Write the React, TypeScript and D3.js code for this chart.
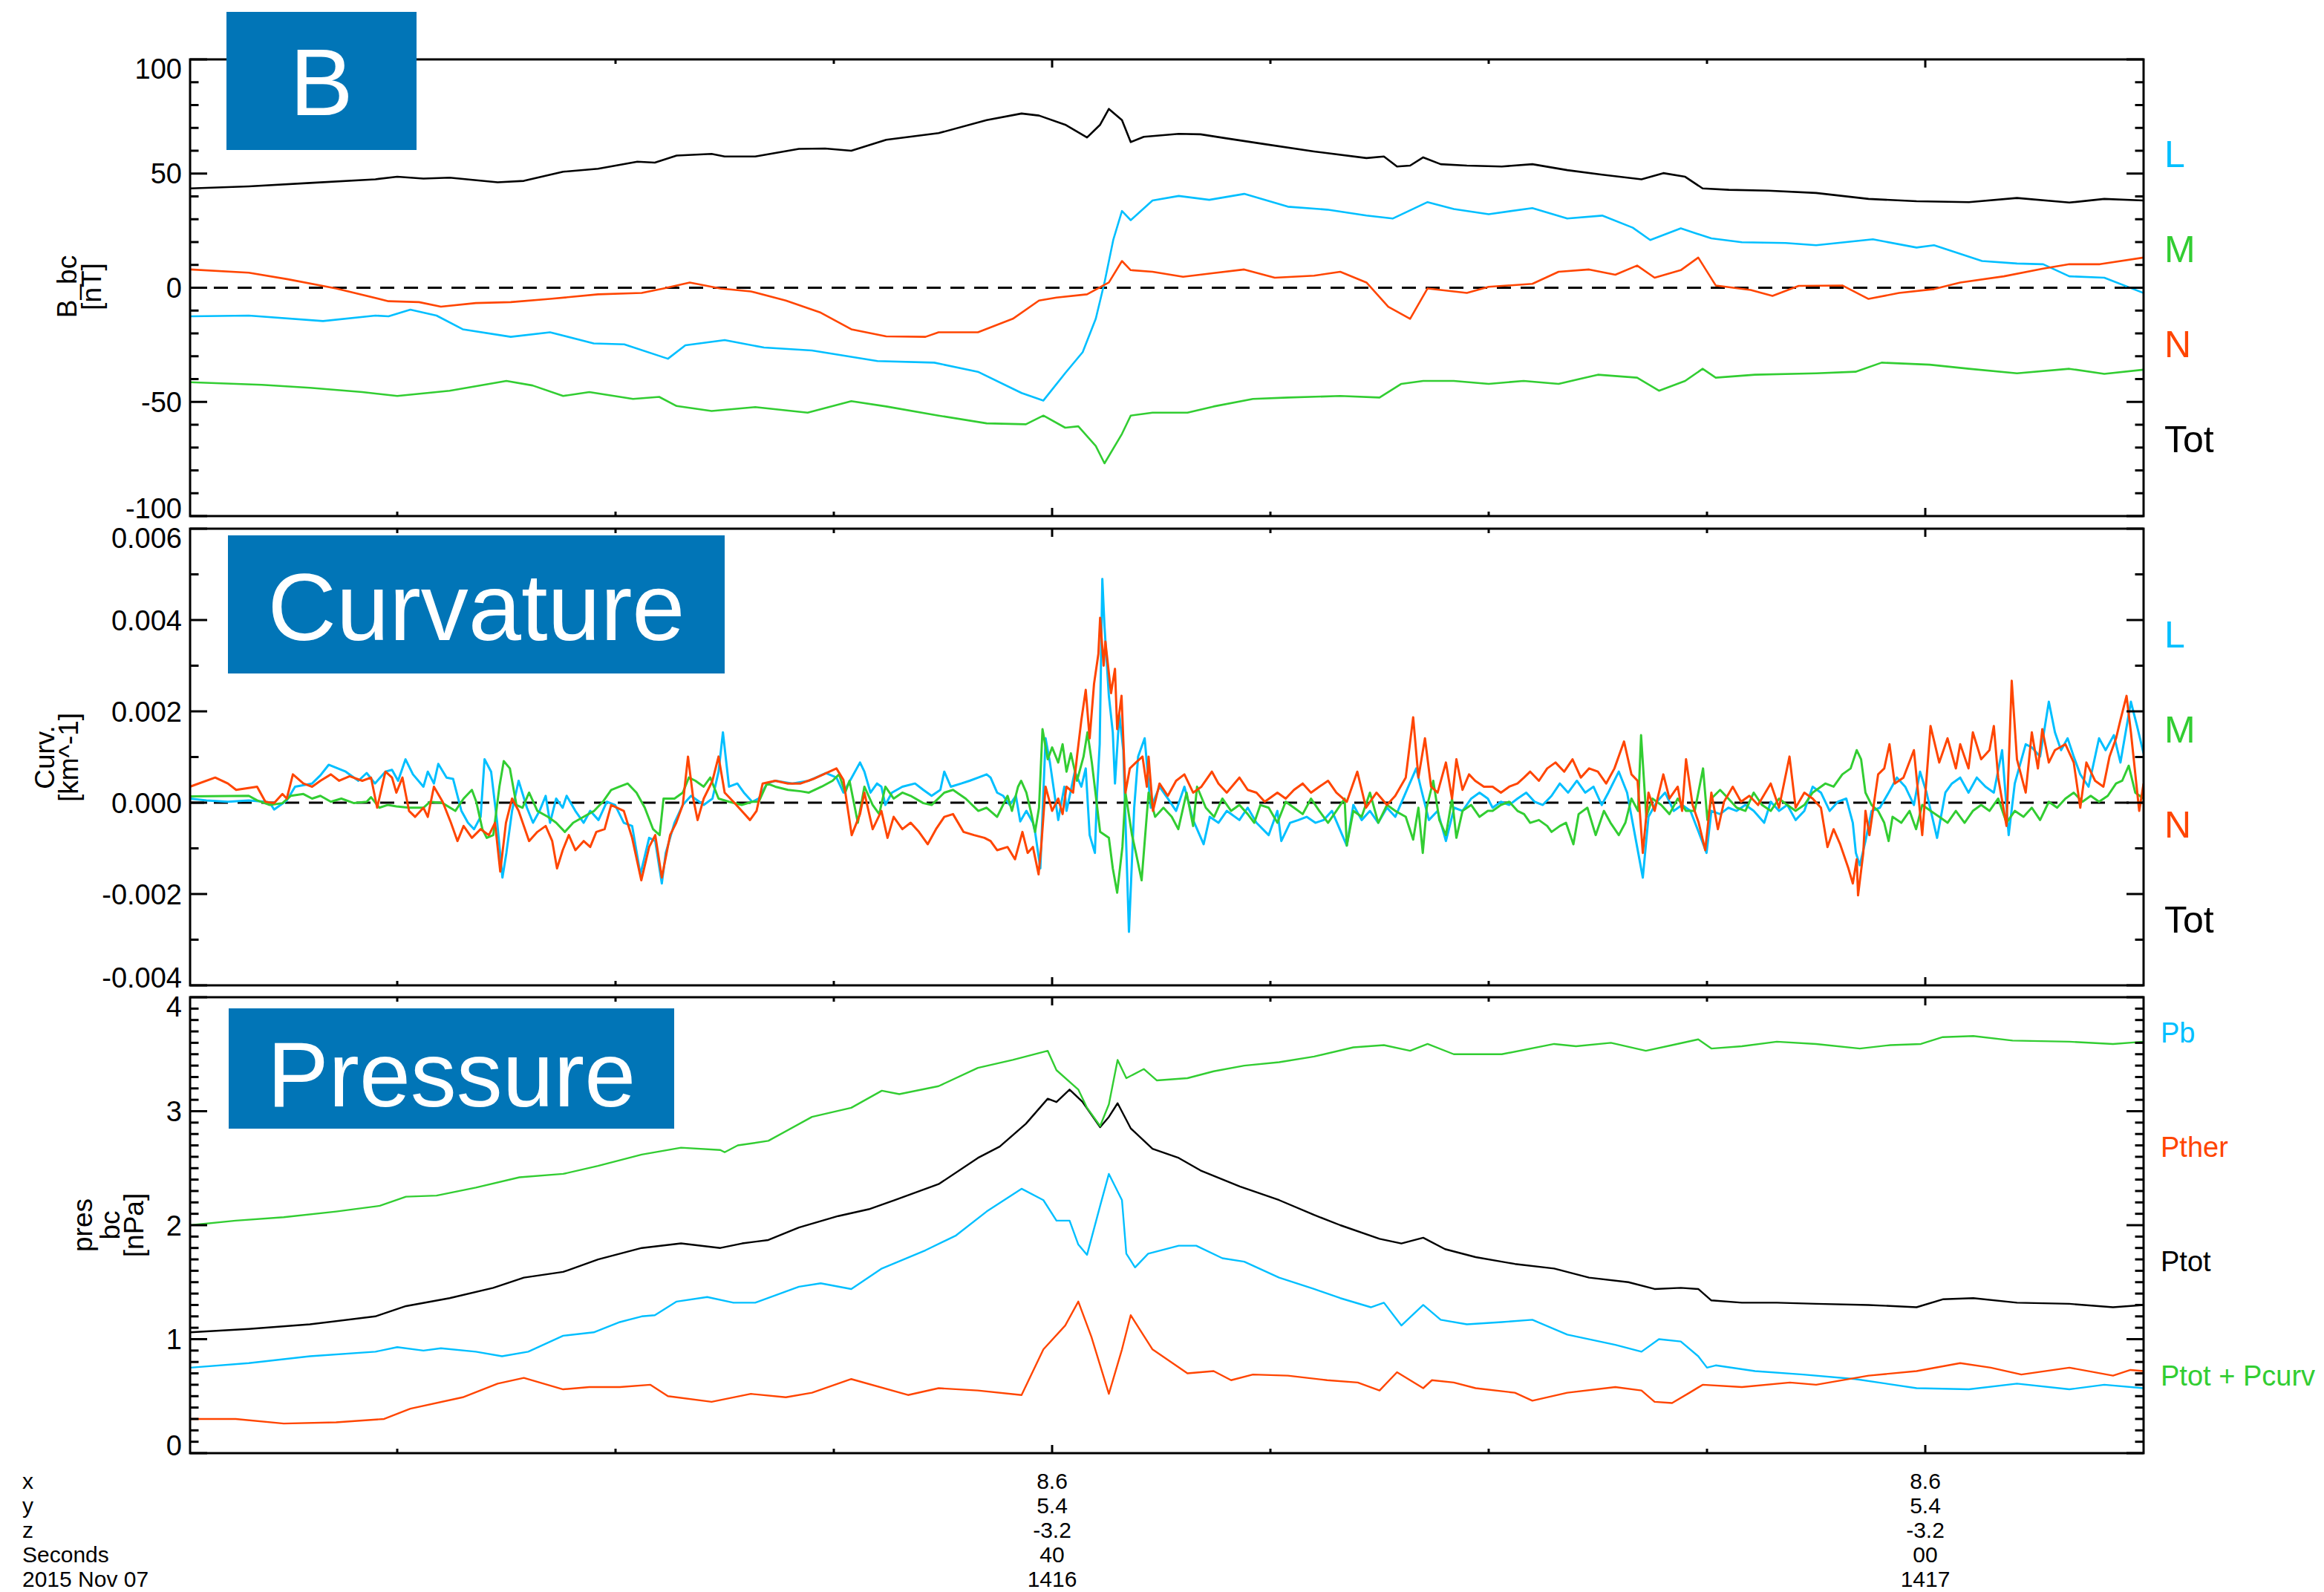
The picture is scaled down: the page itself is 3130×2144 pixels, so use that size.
import React from 'react';
import * as d3 from 'd3';

// ---- layout ----
const W = 3130;
const H = 2144;
const X0 = 256;
const X1 = 2887;
const FONT = '"Liberation Sans", Arial, Helvetica, sans-serif';

const CYAN = '#00bfff';
const GREEN = '#32cd32';
const RED = '#ff4500';
const BLACK = '#000000';
const BOX_BLUE = '#0175b7';

// time axis: seconds after 14:16:00 UT
const T_START = 20.255;
const T_END = 65.0;
const timeMajor = [40, 60];
const timeMinor = [25, 30, 35, 45, 50, 55];

type Pt = [number, number];

// ---- magnetic field, B_bc [nT] (time s, value) ----
const bTot: Pt[] = [[20.26,43.5],[21.6,44.4],[23.0,45.9],[24.5,47.5],[25.0,48.6],[25.6,47.8],[26.2,48.2],[27.3,46.2],[27.9,46.8],[28.8,50.8],[29.6,52.1],[30.5,55.2],[30.9,54.8],[31.4,57.9],[32.2,58.6],[32.5,57.5],[33.2,57.5],[34.2,60.8],[34.8,61.0],[35.4,60.0],[36.2,64.8],[37.4,67.7],[38.5,73.4],[39.3,76.3],[39.7,75.4],[40.3,71.4],[40.8,65.8],[41.1,71.4],[41.3,78.3],[41.6,73.4],[41.8,63.8],[42.1,66.1],[42.9,67.4],[43.4,67.2],[44.0,65.4],[44.9,62.8],[46.0,59.7],[47.2,56.8],[47.6,57.5],[47.9,53.1],[48.2,53.5],[48.5,57.1],[48.9,54.1],[49.5,53.5],[50.3,53.1],[51.0,54.1],[51.8,51.5],[52.6,49.5],[53.5,47.5],[54.0,50.2],[54.5,48.6],[54.9,43.5],[55.5,42.9],[56.4,42.5],[57.5,41.5],[58.7,38.9],[59.8,37.9],[61.0,37.5],[62.1,39.3],[63.3,37.3],[64.1,38.9],[65.0,38.2]];
const bL: Pt[] = [[20.26,-12.5],[21.6,-12.2],[23.3,-14.6],[24.5,-12.2],[24.8,-12.5],[25.3,-9.6],[25.9,-12.2],[26.5,-18.2],[27.6,-21.5],[28.5,-19.5],[29.5,-24.4],[30.2,-24.8],[31.2,-31.1],[31.6,-25.2],[32.5,-22.9],[33.4,-26.2],[34.5,-27.5],[36.0,-32.1],[37.3,-32.8],[38.3,-36.8],[39.3,-46.1],[39.8,-49.4],[40.3,-37.4],[40.7,-28.2],[41.0,-13.6],[41.2,2.3],[41.4,20.9],[41.6,33.6],[41.8,29.6],[42.3,38.2],[42.9,40.2],[43.6,38.5],[44.4,41.1],[45.4,35.5],[46.3,34.2],[47.2,31.6],[47.8,30.3],[48.6,37.5],[49.2,34.5],[50.0,32.2],[51.0,34.9],[51.8,30.3],[52.6,31.6],[53.3,26.3],[53.7,20.9],[54.4,26.0],[55.1,21.6],[55.8,19.9],[56.8,19.6],[57.5,18.6],[58.8,21.2],[59.8,17.6],[60.2,18.6],[61.3,11.7],[62.1,10.6],[62.7,10.3],[63.3,5.0],[64.1,4.4],[65.0,-2.3]];
const bM: Pt[] = [[20.26,-41.4],[21.9,-42.5],[23.0,-43.8],[24.2,-45.7],[25.0,-47.4],[26.2,-45.1],[27.5,-40.8],[28.1,-42.8],[28.8,-47.4],[29.4,-45.7],[30.4,-48.7],[31.0,-47.8],[31.4,-51.8],[32.2,-54.0],[33.2,-52.3],[34.4,-54.7],[35.4,-49.7],[36.2,-52.0],[37.4,-56.0],[38.5,-59.4],[39.4,-59.8],[39.8,-56.0],[40.3,-61.3],[40.6,-60.7],[41.0,-69.3],[41.2,-76.9],[41.6,-64.0],[41.8,-56.0],[42.3,-54.7],[43.1,-54.7],[43.7,-52.0],[44.6,-48.7],[45.4,-48.1],[46.6,-47.4],[47.5,-48.1],[48.0,-42.1],[48.5,-40.8],[49.2,-40.8],[50.0,-42.1],[50.8,-40.8],[51.6,-42.1],[52.5,-38.1],[53.4,-39.4],[53.9,-45.1],[54.5,-40.8],[54.9,-35.5],[55.2,-39.4],[56.1,-38.1],[57.5,-37.5],[58.4,-36.8],[59.0,-32.8],[60.1,-33.7],[61.0,-35.5],[62.1,-37.5],[63.3,-35.5],[64.1,-37.7],[65.0,-35.9]];
const bN: Pt[] = [[20.26,8.0],[21.6,6.6],[22.5,3.7],[23.6,-0.3],[24.8,-5.9],[25.5,-6.3],[26.0,-8.3],[26.8,-6.7],[27.6,-6.3],[28.5,-4.9],[29.6,-2.9],[30.6,-2.3],[31.1,-0.3],[31.7,2.3],[32.4,-0.3],[33.1,-1.6],[33.9,-5.6],[34.7,-10.9],[35.4,-18.2],[36.2,-21.3],[37.1,-21.5],[37.4,-19.5],[38.3,-19.5],[39.1,-13.6],[39.7,-5.6],[40.1,-4.3],[40.8,-2.9],[41.3,2.3],[41.6,11.7],[41.8,7.7],[42.3,7.0],[43.0,4.8],[43.7,6.4],[44.4,8.0],[45.1,4.4],[46.0,5.3],[46.6,7.0],[47.2,2.3],[47.7,-8.3],[48.2,-13.6],[48.6,-0.3],[49.5,-2.3],[50.0,0.4],[51.0,1.7],[51.6,7.0],[52.3,8.0],[52.9,5.7],[53.4,9.7],[53.8,4.4],[54.4,7.7],[54.8,13.2],[55.2,1.0],[56.0,-1.0],[56.5,-3.6],[57.1,0.8],[58.1,1.0],[58.7,-4.9],[59.4,-2.3],[60.2,-0.6],[60.8,2.3],[61.8,5.0],[62.7,8.4],[63.3,10.3],[64.0,10.3],[65.0,13.2]];

// ---- curvature [units of 1e-3 km^-1] (time s, value) ----
const CURV_UNIT = 1e-3;
const curvL: Pt[] = [[20.25,0.09],[20.63,0.05],[21.12,0.02],[21.6,0.05],[21.98,0.02],[22.08,0.0],[22.18,-0.15],[22.47,0.05],[22.66,0.35],[23.05,0.42],[23.24,0.6],[23.43,0.83],[23.82,0.68],[24.11,0.48],[24.3,0.65],[24.49,0.42],[24.73,0.68],[24.88,0.72],[25.02,0.48],[25.19,0.95],[25.36,0.62],[25.6,0.35],[25.7,0.68],[25.84,0.42],[25.94,0.85],[26.13,0.55],[26.28,0.52],[26.47,-0.18],[26.62,-0.44],[26.76,-0.58],[26.91,-0.31],[27.0,0.95],[27.15,0.68],[27.29,-0.44],[27.41,-1.64],[27.5,-1.1],[27.63,-0.18],[27.78,0.48],[27.97,-0.11],[28.11,-0.44],[28.26,-0.18],[28.4,0.15],[28.5,-0.44],[28.64,0.09],[28.79,-0.11],[28.88,0.15],[29.08,-0.18],[29.27,-0.44],[29.42,-0.18],[29.61,-0.38],[29.8,0.02],[29.99,-0.05],[30.19,-0.44],[30.38,-0.51],[30.57,-1.57],[30.77,-0.77],[30.91,-0.84],[31.06,-1.77],[31.15,-1.1],[31.35,-0.44],[31.54,-0.05],[31.73,0.15],[32.02,-0.05],[32.22,0.09],[32.36,0.68],[32.46,1.54],[32.6,0.35],[32.79,0.42],[32.94,0.22],[33.13,0.02],[33.28,0.09],[33.47,0.42],[33.66,0.48],[34.05,0.42],[34.43,0.48],[34.82,0.65],[35.06,0.55],[35.22,0.22],[35.6,0.88],[35.7,0.68],[35.84,0.22],[35.99,0.42],[36.09,0.35],[36.18,-0.05],[36.33,0.22],[36.57,0.35],[36.86,0.42],[37.05,0.28],[37.24,0.15],[37.44,0.28],[37.53,0.68],[37.68,0.35],[37.92,0.42],[38.11,0.48],[38.31,0.55],[38.5,0.62],[38.59,0.55],[38.74,0.22],[38.88,0.15],[39.03,-0.05],[39.17,0.15],[39.27,-0.41],[39.41,-0.18],[39.56,-0.44],[39.61,-0.64],[39.73,-1.44],[39.8,0.22],[39.85,1.41],[39.95,0.88],[40.14,-0.38],[40.28,0.35],[40.33,-0.18],[40.52,0.68],[40.67,0.35],[40.77,0.75],[40.86,-0.71],[40.98,-1.1],[41.03,0.22],[41.09,1.28],[41.15,4.9],[41.2,3.86],[41.3,2.34],[41.39,1.54],[41.44,0.42],[41.54,1.94],[41.63,1.15],[41.76,-2.83],[41.88,-0.11],[41.97,1.01],[42.12,1.41],[42.26,-0.11],[42.46,0.35],[42.65,0.09],[42.84,-0.18],[43.03,0.35],[43.23,-0.38],[43.47,-0.91],[43.61,-0.31],[43.81,-0.44],[44.0,-0.18],[44.29,-0.38],[44.48,-0.11],[44.68,-0.44],[44.96,-0.71],[45.16,-0.18],[45.25,-0.84],[45.45,-0.44],[45.64,-0.38],[45.83,-0.31],[46.03,-0.44],[46.22,-0.38],[46.41,-0.18],[46.75,-0.94],[46.9,-0.05],[47.09,-0.38],[47.28,-0.18],[47.47,-0.44],[47.67,-0.11],[47.86,-0.31],[48.1,0.22],[48.34,0.75],[48.44,0.35],[48.63,-0.38],[48.83,-0.18],[49.02,-0.84],[49.21,-0.11],[49.4,-0.18],[49.6,0.09],[49.79,0.22],[49.98,0.09],[50.09,-0.11],[50.28,0.02],[50.47,-0.05],[50.66,0.09],[50.86,0.22],[51.05,0.02],[51.24,-0.05],[51.44,0.15],[51.63,0.42],[51.82,0.22],[52.02,0.48],[52.21,0.22],[52.4,0.35],[52.59,-0.05],[52.74,0.22],[52.98,0.68],[53.17,0.22],[53.53,-1.64],[53.66,-0.31],[53.85,0.02],[54.04,0.22],[54.24,-0.18],[54.43,-0.05],[54.62,-0.18],[54.86,-0.77],[54.99,-1.1],[55.1,-0.18],[55.3,-0.25],[55.49,-0.11],[55.68,-0.18],[55.88,-0.05],[56.07,-0.18],[56.31,-0.44],[56.46,0.02],[56.65,-0.18],[56.84,-0.05],[57.03,-0.38],[57.23,-0.18],[57.42,0.35],[57.61,0.22],[57.81,-0.18],[58.0,0.02],[58.19,0.09],[58.34,-0.44],[58.41,-1.1],[58.5,-1.37],[58.63,-0.84],[58.77,-0.18],[58.96,-0.11],[59.16,0.22],[59.35,0.55],[59.54,0.35],[59.74,-0.05],[59.88,0.68],[60.03,0.22],[60.27,-0.77],[60.46,0.22],[60.61,0.42],[60.8,0.55],[60.99,0.22],[61.18,0.55],[61.38,0.35],[61.57,0.22],[61.76,1.15],[61.91,-0.71],[62.05,0.42],[62.3,1.28],[62.44,1.21],[62.63,1.01],[62.83,2.21],[62.97,1.54],[63.11,1.15],[63.26,1.41],[63.4,1.01],[63.55,0.62],[63.74,0.35],[63.98,1.41],[64.13,1.15],[64.32,1.48],[64.47,0.88],[64.71,2.21],[64.85,1.68],[65.0,1.08]];
const curvM: Pt[] = [[20.25,0.14],[21.6,0.15],[21.79,0.05],[22.08,-0.05],[22.37,-0.01],[22.56,0.15],[22.85,0.19],[23.05,0.09],[23.24,0.15],[23.48,0.02],[23.72,0.09],[24.01,-0.01],[24.3,0.02],[24.4,0.12],[24.59,-0.11],[24.78,-0.05],[24.98,-0.08],[25.27,-0.11],[25.6,-0.11],[25.75,0.02],[26.04,-0.01],[26.33,-0.18],[26.52,0.09],[26.71,0.28],[26.81,0.02],[26.95,-0.58],[27.05,-0.77],[27.2,-0.71],[27.34,0.35],[27.44,0.91],[27.58,0.75],[27.73,-0.05],[27.87,-0.11],[28.02,0.22],[28.21,-0.18],[28.45,-0.31],[28.64,-0.44],[28.84,-0.64],[29.03,-0.44],[29.27,-0.31],[29.51,-0.18],[29.71,0.02],[29.9,0.28],[30.09,0.35],[30.28,0.42],[30.48,0.22],[30.67,-0.11],[30.86,-0.58],[31.01,-0.71],[31.1,0.09],[31.35,0.09],[31.54,0.22],[31.68,0.55],[31.83,0.48],[32.02,0.35],[32.17,0.55],[32.36,0.09],[32.6,0.02],[32.89,-0.05],[33.13,0.02],[33.28,0.02],[33.47,0.42],[33.66,0.35],[33.95,0.28],[34.24,0.25],[34.43,0.22],[34.72,0.35],[34.97,0.48],[35.12,0.62],[35.26,0.22],[35.36,0.48],[35.55,-0.44],[35.7,0.35],[35.89,-0.05],[36.04,-0.25],[36.18,0.35],[36.37,0.09],[36.57,0.22],[36.76,0.15],[37.05,-0.01],[37.24,-0.05],[37.53,0.22],[37.73,0.28],[38.02,0.09],[38.31,-0.18],[38.5,-0.11],[38.74,-0.31],[38.98,0.15],[39.08,-0.18],[39.22,0.35],[39.29,0.48],[39.41,0.22],[39.51,-0.18],[39.61,-0.64],[39.7,-0.11],[39.78,1.61],[39.9,0.95],[40.0,1.21],[40.14,0.88],[40.24,1.28],[40.33,0.68],[40.43,1.08],[40.57,0.48],[40.72,1.01],[40.81,1.54],[40.91,0.88],[41.1,-0.64],[41.3,-0.77],[41.39,-1.44],[41.49,-1.97],[41.61,-0.97],[41.68,0.22],[41.83,-0.71],[41.92,-1.1],[42.05,-1.7],[42.21,0.22],[42.36,-0.31],[42.55,-0.11],[42.74,-0.31],[42.89,-0.58],[43.08,0.22],[43.23,-0.51],[43.32,0.35],[43.52,-0.11],[43.71,-0.31],[43.9,0.09],[44.1,-0.18],[44.29,-0.05],[44.48,-0.25],[44.63,-0.44],[44.77,-0.05],[44.96,-0.11],[45.16,-0.44],[45.35,0.02],[45.54,-0.11],[45.74,-0.25],[45.93,0.09],[46.12,-0.18],[46.32,-0.44],[46.51,-0.18],[46.7,0.09],[46.75,-0.94],[46.9,-0.18],[47.09,-0.31],[47.28,0.22],[47.47,-0.44],[47.67,-0.05],[47.86,-0.18],[48.1,-0.31],[48.27,-0.81],[48.39,-0.11],[48.49,-1.1],[48.58,-0.11],[48.73,0.48],[48.87,-0.38],[49.02,-0.71],[49.16,0.09],[49.26,-0.77],[49.4,-0.18],[49.6,-0.05],[49.79,-0.31],[49.98,-0.18],[50.09,-0.18],[50.28,-0.05],[50.47,0.02],[50.66,-0.18],[50.81,-0.25],[50.95,-0.44],[51.15,-0.38],[51.34,-0.51],[51.44,-0.64],[51.63,-0.51],[51.77,-0.44],[51.94,-0.91],[52.06,-0.25],[52.26,-0.11],[52.45,-0.71],[52.64,-0.18],[52.79,-0.44],[52.98,-0.71],[53.13,-0.44],[53.27,0.09],[53.42,-0.18],[53.49,1.48],[53.61,-0.31],[53.75,0.09],[53.95,-0.05],[54.14,-0.25],[54.33,0.09],[54.52,-0.18],[54.72,-0.18],[54.91,0.75],[55.01,-0.38],[55.1,0.09],[55.3,0.28],[55.49,0.09],[55.68,-0.11],[55.88,-0.18],[56.07,0.22],[56.26,-0.05],[56.46,-0.18],[56.65,0.09],[56.84,-0.05],[57.03,-0.18],[57.23,-0.05],[57.42,0.22],[57.71,0.42],[57.9,0.35],[58.1,0.62],[58.29,0.75],[58.43,1.15],[58.53,0.95],[58.63,0.22],[58.77,-0.05],[58.92,-0.18],[59.06,-0.44],[59.16,-0.84],[59.25,-0.31],[59.45,-0.44],[59.64,-0.18],[59.79,-0.58],[59.93,-0.05],[60.12,-0.18],[60.32,-0.31],[60.51,-0.44],[60.7,-0.18],[60.9,-0.44],[61.09,-0.18],[61.28,-0.05],[61.47,-0.18],[61.67,0.09],[61.86,-0.44],[62.05,-0.18],[62.25,-0.31],[62.44,-0.11],[62.63,-0.38],[62.83,0.02],[63.02,-0.11],[63.21,0.09],[63.4,0.22],[63.6,0.02],[63.79,0.15],[63.98,0.02],[64.18,0.15],[64.37,0.42],[64.51,0.48],[64.66,0.81],[64.81,0.22],[65.0,0.09]];
const curvN: Pt[] = [[20.25,0.35],[20.83,0.55],[21.12,0.42],[21.31,0.28],[21.79,0.35],[21.98,0.02],[22.18,-0.01],[22.37,0.19],[22.47,0.09],[22.61,0.62],[22.85,0.42],[23.05,0.35],[23.24,0.48],[23.48,0.62],[23.67,0.48],[23.91,0.58],[24.2,0.48],[24.4,0.55],[24.54,-0.11],[24.73,0.68],[24.88,0.55],[24.98,0.22],[25.12,0.55],[25.27,-0.18],[25.41,-0.31],[25.6,-0.11],[25.7,-0.31],[25.84,0.35],[26.04,0.02],[26.23,-0.44],[26.38,-0.84],[26.52,-0.51],[26.71,-0.77],[26.91,-0.58],[27.1,-0.71],[27.24,-0.44],[27.36,-1.51],[27.49,-0.44],[27.63,0.09],[27.78,-0.18],[28.02,-0.84],[28.21,-0.64],[28.4,-0.51],[28.55,-0.84],[28.66,-1.44],[28.79,-1.04],[28.93,-0.71],[29.08,-1.04],[29.27,-0.84],[29.42,-0.97],[29.56,-0.64],[29.75,-0.58],[29.9,-0.05],[30.19,-0.18],[30.38,-0.77],[30.59,-1.7],[30.77,-0.97],[30.91,-0.71],[31.06,-1.64],[31.25,-0.71],[31.39,-0.44],[31.54,-0.05],[31.66,1.01],[31.78,0.09],[31.88,-0.38],[32.02,0.09],[32.22,0.48],[32.36,1.01],[32.5,0.22],[32.7,0.02],[32.89,-0.18],[33.08,-0.38],[33.23,-0.18],[33.37,0.42],[33.66,0.48],[33.95,0.42],[34.24,0.42],[34.53,0.52],[35.06,0.75],[35.22,0.5],[35.41,-0.71],[35.6,-0.25],[35.7,0.22],[35.89,-0.58],[36.09,-0.18],[36.23,-0.77],[36.37,-0.31],[36.57,-0.58],[36.76,-0.44],[36.95,-0.64],[37.15,-0.91],[37.34,-0.58],[37.53,-0.31],[37.73,-0.25],[37.97,-0.64],[38.21,-0.71],[38.45,-0.77],[38.59,-0.84],[38.74,-1.04],[38.98,-0.97],[39.15,-1.24],[39.32,-0.64],[39.44,-1.1],[39.56,-0.97],[39.69,-1.57],[39.75,-0.97],[39.85,0.35],[40.0,-0.18],[40.14,0.09],[40.24,-0.25],[40.33,0.35],[40.48,0.22],[40.57,1.01],[40.67,1.81],[40.77,2.47],[40.86,1.41],[40.96,2.6],[41.06,3.26],[41.1,4.05],[41.18,3.0],[41.22,3.53],[41.35,2.4],[41.44,2.93],[41.49,1.61],[41.59,2.34],[41.68,0.22],[41.78,0.75],[41.92,0.88],[42.07,1.01],[42.17,0.35],[42.21,1.01],[42.31,-0.18],[42.46,0.42],[42.65,0.15],[42.84,0.48],[43.03,0.62],[43.23,0.22],[43.42,0.35],[43.66,0.68],[43.81,0.42],[44.0,0.22],[44.29,0.55],[44.48,0.28],[44.68,0.22],[44.87,0.02],[45.16,0.22],[45.35,0.09],[45.54,0.28],[45.74,0.42],[45.93,0.22],[46.12,0.35],[46.32,0.48],[46.51,0.22],[46.75,0.02],[46.99,0.68],[47.19,-0.11],[47.43,0.22],[47.67,-0.05],[47.86,0.15],[48.1,0.55],[48.27,1.87],[48.39,0.55],[48.54,1.41],[48.68,0.35],[48.83,0.22],[49.02,0.88],[49.16,0.09],[49.26,0.95],[49.4,0.28],[49.55,0.62],[49.69,0.48],[49.89,0.35],[50.09,0.35],[50.28,0.22],[50.47,0.35],[50.66,0.42],[50.81,0.55],[50.95,0.68],[51.15,0.48],[51.34,0.75],[51.53,0.88],[51.73,0.68],[51.92,0.95],[52.11,0.55],[52.3,0.75],[52.5,0.68],[52.69,0.42],[52.88,0.75],[53.1,1.34],[53.27,0.62],[53.41,0.48],[53.53,-1.1],[53.66,0.22],[53.8,-0.18],[54.0,0.62],[54.14,0.09],[54.33,0.35],[54.43,-0.18],[54.52,0.95],[54.67,-0.05],[54.81,-0.44],[54.96,-1.04],[55.1,0.22],[55.25,-0.58],[55.39,0.02],[55.59,0.35],[55.78,0.02],[55.97,0.15],[56.17,-0.05],[56.46,0.42],[56.65,-0.11],[56.89,1.01],[57.03,-0.11],[57.23,0.22],[57.42,0.09],[57.61,-0.11],[57.76,-0.97],[57.9,-0.58],[58.05,-0.91],[58.24,-1.44],[58.34,-1.77],[58.43,-1.24],[58.46,-2.03],[58.58,-1.1],[58.63,-0.18],[58.72,-0.71],[58.92,0.62],[59.06,0.75],[59.18,1.28],[59.3,0.42],[59.5,0.55],[59.74,1.15],[59.93,-0.71],[60.12,1.68],[60.32,0.88],[60.51,1.41],[60.7,0.75],[60.8,1.28],[60.99,0.75],[61.09,1.54],[61.28,0.95],[61.47,1.15],[61.57,1.68],[61.67,0.55],[61.86,-0.51],[61.98,2.67],[62.1,0.95],[62.3,0.22],[62.44,1.54],[62.58,0.75],[62.68,1.61],[62.83,0.88],[62.97,1.15],[63.21,1.28],[63.4,0.88],[63.55,-0.11],[63.69,0.88],[63.89,0.48],[64.08,0.35],[64.22,1.01],[64.37,1.41],[64.47,1.81],[64.61,2.34],[64.71,1.54],[64.9,-0.18],[65.0,0.42]];

// ---- pressure, pres_bc [nPa] (time s, value) ----
const pB: Pt[] = [[20.26,0.75],[21.6,0.79],[23.0,0.85],[24.5,0.89],[25.0,0.93],[25.6,0.90],[26.0,0.92],[26.8,0.89],[27.4,0.85],[28.0,0.89],[28.8,1.03],[29.5,1.06],[30.1,1.15],[30.6,1.20],[30.9,1.21],[31.4,1.33],[32.1,1.37],[32.7,1.32],[33.2,1.32],[34.2,1.46],[34.7,1.49],[35.4,1.44],[36.1,1.62],[37.1,1.78],[37.8,1.91],[38.5,2.12],[39.3,2.32],[39.8,2.22],[40.1,2.04],[40.4,2.04],[40.6,1.83],[40.8,1.74],[41.1,2.17],[41.3,2.45],[41.6,2.22],[41.7,1.75],[41.9,1.63],[42.2,1.75],[42.9,1.82],[43.3,1.82],[43.9,1.71],[44.4,1.68],[45.2,1.54],[46.0,1.44],[46.6,1.36],[47.3,1.28],[47.6,1.32],[48.0,1.12],[48.5,1.30],[48.9,1.17],[49.5,1.13],[50.3,1.15],[51.0,1.17],[51.8,1.04],[52.9,0.95],[53.5,0.89],[53.9,1.00],[54.4,0.98],[54.8,0.85],[55.0,0.75],[55.2,0.77],[56.1,0.72],[57.2,0.69],[58.4,0.65],[59.8,0.57],[61.0,0.56],[62.1,0.61],[63.3,0.56],[64.1,0.60],[65.0,0.57]];
const pTher: Pt[] = [[20.26,0.30],[21.3,0.30],[22.4,0.26],[23.6,0.27],[24.7,0.30],[25.3,0.39],[26.5,0.49],[27.3,0.61],[27.9,0.66],[28.8,0.56],[29.4,0.58],[30.1,0.58],[30.8,0.60],[31.2,0.50],[32.2,0.45],[33.1,0.52],[33.9,0.49],[34.5,0.53],[35.4,0.65],[36.7,0.51],[37.4,0.57],[38.3,0.55],[39.3,0.51],[39.8,0.91],[40.3,1.12],[40.6,1.33],[40.9,1.02],[41.3,0.52],[41.6,0.91],[41.8,1.21],[42.3,0.91],[43.1,0.70],[43.7,0.72],[44.1,0.64],[44.6,0.69],[45.4,0.68],[46.3,0.64],[47.0,0.62],[47.5,0.55],[47.9,0.71],[48.5,0.57],[48.7,0.64],[49.2,0.62],[49.7,0.57],[50.6,0.53],[51.0,0.46],[51.8,0.53],[52.9,0.58],[53.5,0.55],[53.8,0.45],[54.2,0.44],[54.6,0.53],[54.9,0.60],[55.8,0.58],[56.9,0.62],[57.5,0.60],[58.7,0.68],[59.8,0.72],[60.8,0.79],[61.5,0.75],[62.2,0.69],[63.3,0.75],[64.3,0.68],[64.7,0.73],[65.0,0.72]];
const pTot: Pt[] = [[20.26,1.06],[21.6,1.09],[23.0,1.13],[24.5,1.20],[25.2,1.29],[26.2,1.36],[27.2,1.45],[27.9,1.54],[28.8,1.59],[29.6,1.70],[30.6,1.80],[31.5,1.84],[32.4,1.80],[32.9,1.84],[33.5,1.87],[34.2,1.98],[35.1,2.08],[35.8,2.14],[36.4,2.22],[37.4,2.36],[38.3,2.59],[38.8,2.69],[39.4,2.89],[39.9,3.11],[40.1,3.08],[40.4,3.19],[40.7,3.08],[41.1,2.86],[41.3,2.95],[41.5,3.07],[41.8,2.85],[42.3,2.67],[42.9,2.59],[43.4,2.48],[44.3,2.34],[45.2,2.22],[46.0,2.09],[46.6,2.00],[47.5,1.88],[48.0,1.84],[48.5,1.89],[49.0,1.79],[49.7,1.72],[50.6,1.66],[51.5,1.62],[52.3,1.54],[53.2,1.50],[53.8,1.44],[54.4,1.45],[54.8,1.44],[55.1,1.34],[55.8,1.32],[56.6,1.32],[57.5,1.31],[58.7,1.30],[59.8,1.28],[60.4,1.35],[61.1,1.36],[62.1,1.32],[63.3,1.31],[64.3,1.28],[65.0,1.30]];
const pTotCurv: Pt[] = [[20.26,2.00],[21.3,2.04],[22.4,2.07],[23.6,2.12],[24.6,2.17],[25.2,2.25],[25.9,2.26],[26.8,2.33],[27.8,2.42],[28.8,2.45],[29.6,2.52],[30.6,2.62],[31.5,2.68],[32.4,2.66],[32.5,2.64],[32.8,2.70],[33.5,2.74],[34.5,2.95],[35.4,3.03],[36.1,3.18],[36.5,3.15],[37.4,3.22],[38.3,3.38],[39.1,3.45],[39.9,3.53],[40.1,3.36],[40.6,3.19],[40.8,3.03],[41.1,2.87],[41.3,3.06],[41.5,3.45],[41.7,3.29],[42.1,3.37],[42.4,3.27],[43.1,3.29],[43.7,3.35],[44.4,3.40],[45.2,3.43],[46.0,3.48],[46.9,3.56],[47.6,3.58],[48.2,3.53],[48.6,3.59],[49.2,3.50],[50.3,3.50],[51.5,3.59],[52.0,3.57],[52.8,3.60],[53.6,3.53],[54.2,3.58],[54.8,3.63],[55.1,3.55],[55.8,3.57],[56.6,3.61],[57.5,3.59],[58.5,3.55],[59.2,3.58],[59.9,3.59],[60.4,3.65],[61.1,3.66],[62.0,3.62],[63.3,3.61],[64.3,3.59],[65.0,3.61]];

// ---- ephemeris / time labels under the x axis ----
const ephemNames = ['x', 'y', 'z', 'Seconds', '2015 Nov 07'];
const ephemTimes = [40, 60];
const ephemRows = [
  ['8.6', '8.6'],
  ['5.4', '5.4'],
  ['-3.2', '-3.2'],
  ['40', '00'],
  ['1416', '1417'],
];

const bLegend = [
  { name: 'L', color: CYAN },
  { name: 'M', color: GREEN },
  { name: 'N', color: RED },
  { name: 'Tot', color: BLACK },
];
const pLegend = [
  { name: 'Pb', color: CYAN },
  { name: 'Pther', color: RED },
  { name: 'Ptot', color: BLACK },
  { name: 'Ptot + Pcurv', color: GREEN },
];

type Series = { data: Pt[]; color: string; scale?: number };
type PanelCfg = {
  id: string;
  top: number;
  bottom: number;
  domain: [number, number];
  majors: number[];
  minors: number[];
  fmt: (v: number) => string;
  zero: boolean;
  lineWidth: number;
  series: Series[];
};

const panels: PanelCfg[] = [
  {
    id: 'b', top: 80, bottom: 695, domain: [-100, 100],
    majors: d3.range(-100, 101, 50), minors: d3.range(-100, 101, 10),
    fmt: (v) => String(v), zero: true, lineWidth: 2.6,
    series: [
      { data: bTot, color: BLACK },
      { data: bL, color: CYAN },
      { data: bM, color: GREEN },
      { data: bN, color: RED },
    ],
  },
  {
    id: 'c', top: 712, bottom: 1327, domain: [-0.004, 0.006],
    majors: d3.range(-4, 7, 2).map((v) => v / 1000), minors: d3.range(-4, 7, 1).map((v) => v / 1000),
    fmt: (v) => v.toFixed(3), zero: true, lineWidth: 3,
    series: [
      { data: curvL, color: CYAN, scale: CURV_UNIT },
      { data: curvM, color: GREEN, scale: CURV_UNIT },
      { data: curvN, color: RED, scale: CURV_UNIT },
    ],
  },
  {
    id: 'p', top: 1343, bottom: 1957, domain: [0, 4],
    majors: [0, 1, 2, 3, 4], minors: d3.range(0, 41).map((i) => i / 10),
    fmt: (v) => String(v), zero: false, lineWidth: 2.4,
    series: [
      { data: pB, color: CYAN },
      { data: pTher, color: RED },
      { data: pTot, color: BLACK },
      { data: pTotCurv, color: GREEN },
    ],
  },
];

const x = d3.scaleLinear().domain([T_START, T_END]).range([X0, X1]);

function Panel({ cfg }: { cfg: PanelCfg }) {
  const y = d3.scaleLinear().domain(cfg.domain).range([cfg.bottom, cfg.top]);
  const clipId = `clip-${cfg.id}`;
  const isMajor = (v: number) => cfg.majors.some((m) => Math.abs(m - v) < 1e-9);
  return (
    <g>
      <defs>
        <clipPath id={clipId}>
          <rect x={X0} y={cfg.top} width={X1 - X0} height={cfg.bottom - cfg.top} />
        </clipPath>
      </defs>
      {cfg.zero && (
        <line x1={X0} x2={X1} y1={y(0)} y2={y(0)} stroke="#000" strokeWidth={3} strokeDasharray="19 13" />
      )}
      <g clipPath={`url(#${clipId})`}>
        {cfg.series.map((s, i) => {
          const k = s.scale ?? 1;
          const line = d3.line<Pt>().x((d) => x(d[0])).y((d) => y(d[1] * k));
          return (
            <path key={i} d={line(s.data) ?? ''} fill="none" stroke={s.color}
              strokeWidth={cfg.lineWidth} strokeLinejoin="round" />
          );
        })}
      </g>
      {/* y ticks, left and right */}
      {cfg.minors.map((v, i) => {
        const len = isMajor(v) ? 23 : 11.5;
        const yy = y(v);
        return (
          <g key={`yt${i}`}>
            <line x1={X0} x2={X0 + len} y1={yy} y2={yy} stroke="#000" strokeWidth={3} />
            <line x1={X1 - len} x2={X1} y1={yy} y2={yy} stroke="#000" strokeWidth={3} />
          </g>
        );
      })}
      {/* x ticks, top and bottom */}
      {[...timeMajor.map((t) => [t, 11]), ...timeMinor.map((t) => [t, 6])].map(([t, len], i) => (
        <g key={`xt${i}`}>
          <line x1={x(t)} x2={x(t)} y1={cfg.top} y2={cfg.top + len} stroke="#000" strokeWidth={3} />
          <line x1={x(t)} x2={x(t)} y1={cfg.bottom - len} y2={cfg.bottom} stroke="#000" strokeWidth={3} />
        </g>
      ))}
      <rect x={X0} y={cfg.top} width={X1 - X0} height={cfg.bottom - cfg.top} fill="none" stroke="#000" strokeWidth={3} />
      {cfg.majors.map((v, i) => {
        const yy = Math.min(Math.max(y(v), cfg.top + 12), cfg.bottom - 11);
        return (
          <text key={`yl${i}`} x={245} y={yy} dy="0.36em" textAnchor="end" fontSize={38} fontFamily={FONT}>
            {cfg.fmt(v)}
          </text>
        );
      })}
    </g>
  );
}

function TitleBox({ x0, y0, w, h, label, size, baseline }:
  { x0: number; y0: number; w: number; h: number; label: string; size: number; baseline: number }) {
  return (
    <g>
      <rect x={x0} y={y0} width={w} height={h} fill={BOX_BLUE} />
      <text x={x0 + w / 2} y={baseline} textAnchor="middle" fontSize={size} fontFamily={FONT} fill="#fff">
        {label}
      </text>
    </g>
  );
}

function RotLabel({ lines, cy, fontSize }: { lines: { text: string; x: number }[]; cy: number; fontSize: number }) {
  return (
    <g>
      {lines.map((l, i) => (
        <text key={i} transform={`translate(${l.x},${cy}) rotate(-90)`} textAnchor="middle"
          fontSize={fontSize} fontFamily={FONT}>
          {l.text}
        </text>
      ))}
    </g>
  );
}

export default function App() {
  const rowBaselines = [2005, 2038, 2071, 2104, 2137];
  return (
    <div style={{ position: 'absolute', left: 0, top: 0, width: W, height: H, background: '#fff' }}>
      <svg width={W} height={H} viewBox={`0 0 ${W} ${H}`} xmlns="http://www.w3.org/2000/svg">
        <rect x={0} y={0} width={W} height={H} fill="#fff" />
        {panels.map((p) => <Panel key={p.id} cfg={p} />)}

        <TitleBox x0={305} y0={16} w={256} h={186} label="B" size={128} baseline={155} />
        <TitleBox x0={307} y0={721} w={669} h={186} label="Curvature" size={128} baseline={862} />
        <TitleBox x0={308} y0={1358} w={600} h={162} label="Pressure" size={124} baseline={1490} />

        <RotLabel cy={386} fontSize={37} lines={[{ text: 'B_bc', x: 103 }, { text: '[nT]', x: 136 }]} />
        <RotLabel cy={1020} fontSize={37} lines={[{ text: 'Curv.', x: 73 }, { text: '[km^-1]', x: 105 }]} />
        <RotLabel cy={1650} fontSize={37} lines={[{ text: 'pres', x: 124 }, { text: 'bc', x: 161 }, { text: '[nPa]', x: 193 }]} />

        {bLegend.map((l, i) => (
          <text key={`bl${i}`} x={2915} y={225 + i * 128} fontSize={50} fontFamily={FONT} fill={l.color}>{l.name}</text>
        ))}
        {bLegend.map((l, i) => (
          <text key={`cl${i}`} x={2915} y={872 + i * 128} fontSize={50} fontFamily={FONT} fill={l.color}>{l.name}</text>
        ))}
        {pLegend.map((l, i) => (
          <text key={`pl${i}`} x={2910} y={1404 + i * 154} fontSize={38} fontFamily={FONT} fill={l.color}>{l.name}</text>
        ))}

        {ephemNames.map((n, i) => (
          <text key={`en${i}`} x={30} y={rowBaselines[i]} fontSize={30} fontFamily={FONT}>{n}</text>
        ))}
        {ephemTimes.map((t, j) =>
          ephemRows.map((row, i) => (
            <text key={`ev${j}-${i}`} x={x(t)} y={rowBaselines[i]} textAnchor="middle" fontSize={30} fontFamily={FONT}>
              {row[j]}
            </text>
          ))
        )}
      </svg>
    </div>
  );
}
